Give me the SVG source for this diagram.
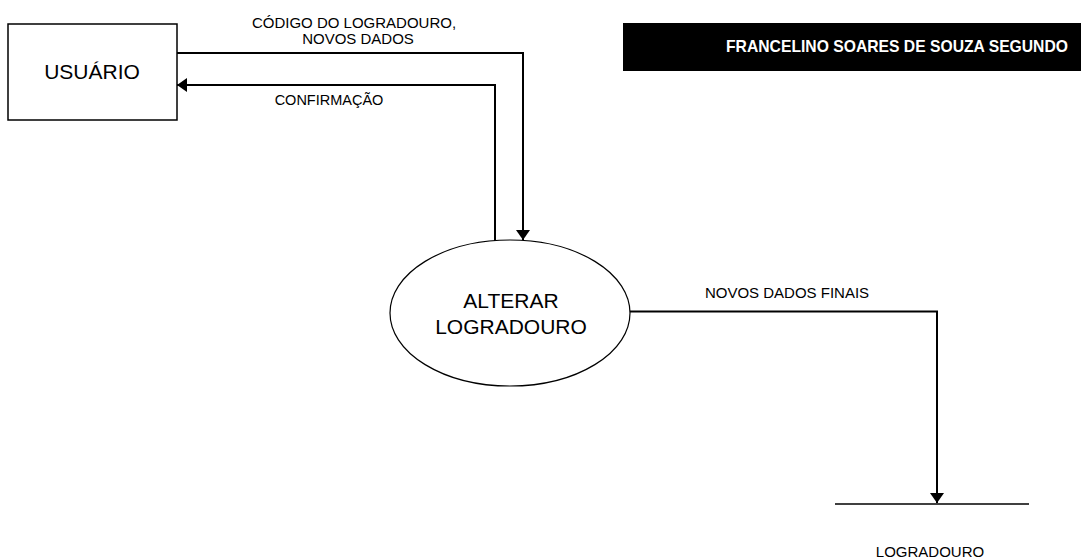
<svg xmlns="http://www.w3.org/2000/svg" width="1081" height="559" viewBox="0 0 1081 559">
<style>
.t{font-family:"Liberation Sans",Arial,sans-serif;fill:#000}
.c{fill:none;stroke:#000;stroke-width:2}
</style>
<defs>
<marker id="ah" viewBox="0 0 10 14" refX="10" refY="7" markerWidth="10" markerHeight="14" markerUnits="userSpaceOnUse" orient="auto">
<path d="M0,0 L10,7 L0,14 Z" fill="#000"/>
</marker>
</defs>
<rect width="1081" height="559" fill="#fff"/>
<g id="banner">
<rect x="623" y="23" width="458" height="48" fill="#000"/>
<text class="t" x="1068" y="52" text-anchor="end" font-size="15.7" font-weight="bold" style="fill:#fff">FRANCELINO SOARES DE SOUZA SEGUNDO</text>
</g>
<g id="usuario">
<rect x="8" y="24" width="169" height="96" fill="#fff" stroke="#000" stroke-width="1.5"/>
<text class="t" x="92" y="79" text-anchor="middle" font-size="21">USUÁRIO</text>
</g>
<g id="alterar">
<ellipse cx="510" cy="313" rx="120" ry="73" fill="#fff" stroke="#000" stroke-width="1.2"/>
<text class="t" x="511" y="308" text-anchor="middle" font-size="21">ALTERAR</text>
<text class="t" x="511" y="334" text-anchor="middle" font-size="21">LOGRADOURO</text>
</g>
<g id="logradouro">
<line x1="835" y1="504" x2="1029" y2="504" stroke="#000" stroke-width="1.5"/>
<text class="t" x="930" y="557" text-anchor="middle" font-size="15">LOGRADOURO</text>
</g>
<g id="connectors">
<path class="c" d="M177,53 H523 V240" marker-end="url(#ah)"/>
<text class="t" x="354" y="28" text-anchor="middle" font-size="15">CÓDIGO DO LOGRADOURO,</text>
<text class="t" x="358" y="44" text-anchor="middle" font-size="15">NOVOS DADOS</text>
<path class="c" d="M495,241 V85 H177" marker-end="url(#ah)"/>
<text class="t" x="329" y="105" text-anchor="middle" font-size="14.5">CONFIRMAÇÃO</text>
<path class="c" d="M630,311.5 H937 V503" marker-end="url(#ah)"/>
<text class="t" x="787" y="298" text-anchor="middle" font-size="15">NOVOS DADOS FINAIS</text>
</g>
</svg>
